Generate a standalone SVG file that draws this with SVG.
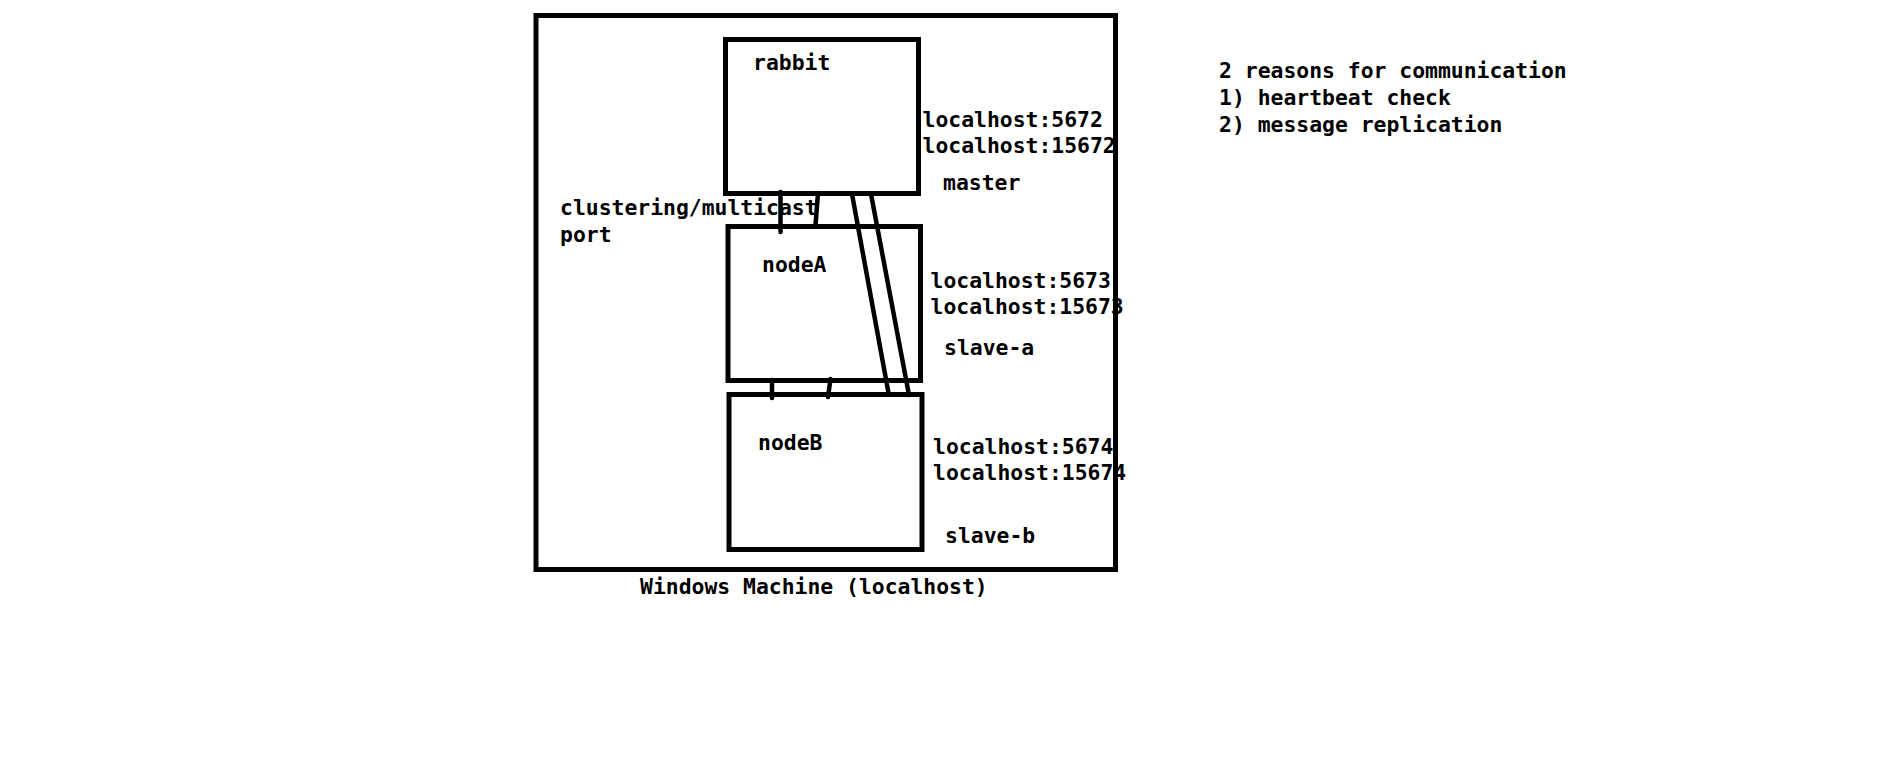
<svg xmlns="http://www.w3.org/2000/svg" width="1900" height="763" viewBox="0 0 1900 763">
<style>
.box{fill:none;stroke:#000;stroke-width:5}
.ln{stroke:#000;stroke-width:4.5;stroke-linecap:round;fill:none}
text{font-family:"DejaVu Sans Mono","Liberation Mono",monospace;font-weight:bold;font-size:21.4px;fill:#000}
</style>
<rect width="1900" height="763" fill="#fff"/>
<g id="machine">
<rect class="box" x="536" y="15.5" width="579.5" height="554"/>
<text x="640" y="594">Windows Machine (localhost)</text>
</g>
<g id="rabbit">
<rect class="box" x="725.5" y="39.5" width="193" height="154"/>
<text x="753" y="70">rabbit</text>
<text x="922.5" y="126.5">localhost:5672</text>
<text x="922.5" y="152.5">localhost:15672</text>
<text x="943" y="190">master</text>
</g>
<g id="nodeA">
<rect class="box" x="728" y="226.5" width="192.5" height="154"/>
<text x="762" y="271.5">nodeA</text>
<text x="930.5" y="287.5">localhost:5673</text>
<text x="930.5" y="313.5">localhost:15673</text>
<text x="944" y="354.5">slave-a</text>
</g>
<g id="nodeB">
<rect class="box" x="729" y="394.5" width="193" height="155"/>
<text x="758" y="449.5">nodeB</text>
<text x="933" y="453.5">localhost:5674</text>
<text x="933" y="479.5">localhost:15674</text>
<text x="945" y="542.5">slave-b</text>
</g>
<g id="port-label">
<text x="560" y="215">clustering/multicast</text>
<text x="560" y="242">port</text>
</g>
<g id="notes">
<text x="1219" y="77.5">2 reasons for communication</text>
<text x="1219" y="104.5">1) heartbeat check</text>
<text x="1219" y="131.5">2) message replication</text>
</g>
<g id="connectors">
<line class="ln" x1="780.5" y1="192" x2="780.5" y2="232"/>
<line class="ln" x1="818" y1="193" x2="815.5" y2="225"/>
<line class="ln" x1="852" y1="194" x2="888.5" y2="393"/>
<line class="ln" x1="871" y1="194" x2="909" y2="395"/>
<line class="ln" x1="772" y1="380" x2="772" y2="398"/>
<line class="ln" x1="830.5" y1="379" x2="828" y2="397"/>
</g>
</svg>
